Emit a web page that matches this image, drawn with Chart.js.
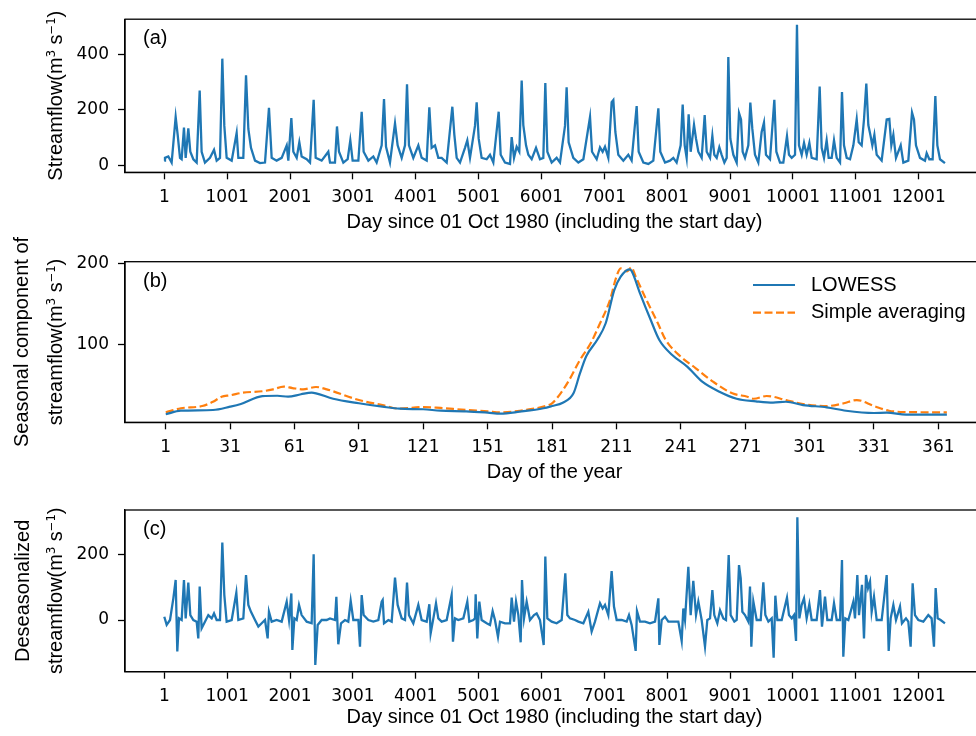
<!DOCTYPE html>
<html><head><meta charset="utf-8">
<script src="https://cdn.jsdelivr.net/npm/chart.js"></script>
<style>
html,body{margin:0;padding:0;background:#fff;overflow:hidden;width:976px;height:736px;position:relative;}
canvas{position:absolute;left:0;}
</style></head><body>
<canvas id="ca" width="1000" height="240" style="top:0px"></canvas>
<canvas id="cb" width="1000" height="268" style="top:222px"></canvas>
<canvas id="cc" width="1000" height="258" style="top:478px"></canvas>
<script>
// ---------------- data ----------------
const dailyDays = [1,12,65,118,145,182,214,251,277,314,341,383,415,463,516,564,595,648,728,792,834,887,924,956,993,1073,1152,1179,1258,1301,1338,1380,1444,1523,1603,1666,1709,1788,1868,1948,1974,2022,2054,2107,2149,2186,2266,2319,2377,2409,2504,2610,2637,2716,2748,2780,2849,2918,2960,2997,3088,3141,3172,3247,3326,3379,3459,3496,3528,3591,3671,3713,3777,3830,3862,3893,3962,
4042,4095,4175,4217,4254,4307,4360,4413,4493,4583,4615,4652,4705,4784,4821,4864,4943,4970,5002,5049,5129,5182,5235,5320,5352,5420,5500,5527,5564,5606,5648,5686,5712,5755,5792,5845,5914,5977,6030,6062,6094,6163,6242,6295,6375,6401,6433,6507,6587,6667,6773,6805,6879,6932,6974,7011,7064,7117,7144,7176,7223,7303,7382,7435,7515,7547,7621,7701,7780,7860,7891,7966,8045,8098,8151,8215,8247,8279,8310,8342,8374,8427,8459,
8496,8549,8597,8629,8682,8719,8750,8788,8830,8867,8910,8947,8973,9005,9053,9106,9143,9175,9201,9238,9291,9323,9355,9397,9450,9503,9540,9572,9636,9705,9737,9795,9848,9906,9938,9981,10034,10065,10097,10140,10177,10219,10262,10299,10378,10426,10458,10495,10537,10569,10617,10654,10697,10750,10781,10813,10856,10909,10962,11015,11047,11094,11131,11168,11200,11232,11264,11296,11333,11412,11492,11534,11566,11598,11640,11715,11757,11836,11895,11926,11958,12022,12101,12128,12170,12223,12266,12298,12340,12419];
const dailyFlow = [17,27,32,10,79,174,110,27,22,136,27,133,49,22,10,269,49,10,27,56,17,27,384,142,27,17,117,27,27,324,131,63,17,8,10,207,27,17,27,72,17,170,49,27,83,32,22,10,236,27,17,49,10,10,140,49,10,22,90,17,17,193,49,17,32,10,72,239,67,10,151,72,27,72,292,72,27,
72,27,17,209,63,72,27,27,10,211,110,27,10,63,90,27,142,227,96,27,22,38,10,193,38,10,5,102,27,67,49,305,145,72,38,22,63,22,27,296,49,10,27,10,142,281,83,27,10,22,174,49,22,65,49,67,27,227,235,120,38,17,38,17,213,49,10,5,17,205,49,10,17,27,10,72,219,72,27,184,49,146,96,
49,27,181,49,27,106,38,27,65,38,10,27,390,96,38,10,188,165,49,27,72,226,131,38,10,120,154,38,22,236,49,10,10,105,38,27,38,506,72,38,81,38,81,27,22,284,63,27,90,27,27,90,27,10,264,72,27,22,72,166,83,72,165,294,145,110,72,110,38,17,165,167,72,110,27,72,10,17,190,165,72,27,17,44,22,22,249,72,22,8];

const lowessDoy = [1,8,23,31,36,46,53,58,64,69,71,79,91,102,110,121,129,141,151,157,166,177,181,186,191,194,197,202,206,210,213,217,218,222,227,231,237,244,251,259,267,276,284,290,298,309,318,331,337,346,365];
const lowessFlow = [13.6,18,18.9,23,26.3,36,36.5,35.3,38.3,40.3,39.5,32.8,27.2,23,20.5,19.8,18,17.3,15.6,14.3,16.8,21,23.8,27.9,39.5,64,85.6,105.3,126,167,183.5,192.6,191,163,130,105.3,86.8,72.4,53.9,41.5,32.8,29.6,27.9,29.1,25,22.2,18,15.2,15.6,13.1,13.1];
const avgDoy = [1,8,18,23,27,31,37,46,51,56,60,65,71,76,91,102,110,121,129,141,151,157,166,178,181,185,189,194,199,203,208,211,213,216,218,220,225,230,234,241,248,256,265,272,275,281,290,298,309,317,323,331,338,346,365];
const avgFlow = [16,21,23.8,29,35.3,37,40.3,42,44.4,47.7,46,44.4,47.3,44.4,31.2,25,20.5,22.6,21.4,18.9,17.3,16,18,23.8,27.2,39.5,55.9,80.6,101.2,123.8,154.7,183.5,193.8,190,195,183.5,154.7,127.9,105.3,84.7,70.4,53.9,39.5,35.3,32.8,36.2,31.2,26.3,23.8,27.2,31.2,23.8,18,16.4,16];

const deseasDays = [1,39,92,145,182,208,235,277,314,341,383,415,463,516,542,564,595,648,701,755,792,834,887,924,956,993,1073,1147,1179,1258,1301,1338,1380,1444,1497,1550,1603,1645,1666,1709,1788,1868,1948,1985,2022,2038,2070,2107,2144,2186,2266,2345,2377,2403,2441,2504,2584,2637,2716,2738,2769,2812,2875,2928,2966,3008,3088,3114,3141,3172,3247,3326,3406,3459,3475,3496,3565,3618,3671,3713,3777,3830,3862,3893,3962,
4042,4095,4175,4217,4238,4281,4323,4360,4413,4493,4572,4593,4625,4678,4758,4821,4853,4917,4943,4954,4980,5012,5049,5129,5182,5224,5261,5309,5341,5420,5500,5527,5564,5596,5633,5670,5691,5723,5765,5818,5882,5924,5977,6036,6062,6094,6163,6242,6322,6380,6412,6454,6534,6587,6667,6746,6799,6852,6932,6974,7011,7064,7117,7154,7197,7276,7356,7393,7435,7499,7520,7568,7648,7727,7807,7860,7876,7913,7966,8019,8098,8178,8231,8257,8284,8337,8374,8416,8459,
8496,8549,8602,8639,8682,8719,8750,8798,8841,8894,8936,8979,9010,9069,9106,9143,9170,9196,9238,9291,9318,9339,9371,9424,9488,9530,9562,9610,9663,9694,9721,9753,9822,9906,9938,9981,10018,10050,10071,10103,10140,10177,10219,10262,10299,10378,10431,10463,10511,10548,10617,10654,10697,10750,10781,10802,10834,10882,10962,10988,11025,11052,11099,11131,11163,11195,11227,11253,11290,11333,11412,11492,11524,11555,11598,11640,11704,11735,11799,11836,11873,11905,11942,11995,12075,12154,12207,12244,12271,12303,12350,12419];
const deseasFlow = [10,-15,0,66,122,-96,5,0,122,5,114,15,0,-5,-56,102,-25,-5,15,5,20,0,0,236,76,-5,0,83,0,5,137,46,25,0,-20,-10,0,-56,25,-5,0,-5,56,0,81,-91,5,0,46,15,-5,-10,200,-137,-15,0,0,5,0,71,-74,-10,0,-5,58,0,0,-81,76,15,0,-5,0,56,61,-10,0,-5,129,46,5,0,114,15,-10,
46,0,-5,48,-41,5,51,5,-5,0,76,-66,5,0,5,56,-5,0,5,78,-56,56,0,-10,-15,27,0,-51,-5,-10,-10,68,-5,56,15,-68,122,5,56,0,15,20,0,-76,193,5,-5,-10,0,142,15,5,0,-5,-10,25,-35,-5,51,35,46,15,149,41,0,0,-5,15,-15,-94,27,-5,-5,-10,-5,66,-76,0,10,-5,-5,-5,-64,35,0,162,15,119,15,
56,0,-81,0,5,91,15,-10,30,5,0,198,15,-5,0,167,127,25,15,-5,102,-81,56,0,0,115,15,-5,5,-115,74,0,0,68,15,5,15,-64,313,5,46,66,5,48,0,0,91,-20,71,0,0,51,0,0,183,-112,5,0,56,5,137,15,107,-56,137,97,117,25,71,0,0,137,-94,5,46,0,41,-10,5,-5,-81,112,15,0,-5,15,5,-81,97,5,0,-10];

const dayTicks = [1,1001,2001,3001,4001,5001,6001,7001,8001,9001,10001,11001,12001];
const doyTicks = [1,31,61,91,121,151,181,211,241,271,301,331,361];
const flowTicks = [0,200,400];
const seasonTicks = [100,200];
const deseasTicks = [0,200];
const seriesNames = ['LOWESS','Simple averaging'];

// ---------------- styling ----------------
const BLUE = '#1f77b4', ORANGE = '#ff7f0e';
const SANS = "'Liberation Sans', Arial, sans-serif";
const TICKF = {family:"'DejaVu Sans'", size:17};
const F20 = "20px " + SANS;
const SUP = "11.5px 'DejaVu Sans'";
const XTITLE_DAY = 'Day since 01 Oct 1980 (including the start day)';

const pts = (xs, ys) => xs.map((x,i) => ({x:x, y:ys[i]}));
const unit = (p) => [{t:p+'(m', font:F20},{t:'3', font:SUP, raise:7.5},{t:' s', font:F20},{t:'\u22121', font:SUP, raise:7.5},{t:')', font:F20}];

function decorPlugin(cfg){
  return {
    id:'decor'+cfg.label,
    afterDatasetsDraw(chart){
      const ctx = chart.ctx, a = chart.chartArea;
      ctx.save();
      ctx.strokeStyle='#000'; ctx.lineWidth=1.3; ctx.setLineDash([]);
      ctx.strokeRect(a.left, a.top, a.right-a.left, a.bottom-a.top);
      ctx.fillStyle='#000';
      ctx.font = F20; ctx.textBaseline='middle'; ctx.textAlign='left';
      ctx.fillText(cfg.label, 143, a.top + 19.5);
      const cy = (a.top + a.bottom)/2;
      cfg.yLines.forEach(line => {
        let total = 0;
        line.segs.forEach(s => { ctx.font = s.font; s.w = ctx.measureText(s.t).width; total += s.w; });
        ctx.save();
        ctx.translate(line.x, cy); ctx.rotate(-Math.PI/2);
        ctx.textBaseline='alphabetic'; ctx.textAlign='left';
        let x = -total/2;
        line.segs.forEach(s => { ctx.font = s.font; ctx.fillText(s.t, x, -(s.raise||0)); x += s.w; });
        ctx.restore();
      });
      if (cfg.legend){
        chart.data.datasets.forEach((ds,i) => {
          const y = a.top + 23.3 + i*27.7;
          ctx.strokeStyle = ds.borderColor; ctx.lineWidth = ds.borderWidth;
          ctx.setLineDash(ds.borderDash || []);
          ctx.beginPath(); ctx.moveTo(753, y); ctx.lineTo(795, y); ctx.stroke();
          ctx.setLineDash([]);
          ctx.font = F20; ctx.textBaseline='middle'; ctx.fillStyle='#000';
          ctx.fillText(ds.label, 811, y);
        });
      }
      ctx.restore();
    }
  };
}

function axisCommon(ticksArr, pad){
  return {
    type:'linear',
    afterBuildTicks: s => { s.ticks = ticksArr.map(v => ({value:v})); },
    ticks:{autoSkip:false, maxRotation:0, minRotation:0, color:'#000', font:TICKF, padding:pad, callback: v => String(v)},
    grid:{display:true, drawOnChartArea:false, drawTicks:true, tickLength:7, color:'#000', tickWidth:1.3},
    border:{display:true, color:'#000', width:1.3}
  };
}

function makeChart(id, cfg){
  const x = Object.assign(axisCommon(cfg.xTicks, cfg.xTickPad), {
    min:cfg.xMin, max:cfg.xMax,
    afterFit: s => { s.height = cfg.xHeight; },
    title:{display:true, text:cfg.xTitle, color:'#000', font:{family:SANS, size:20}, padding:{top:0, bottom:cfg.xTitlePad}}
  });
  const y = Object.assign(axisCommon(cfg.yTicks, 9), {
    min:cfg.yMin, max:cfg.yMax,
    afterFit: s => { s.width = 125; }
  });
  return new Chart(document.getElementById(id), {
    type:'line',
    data:{datasets:cfg.datasets},
    options:{
      responsive:false, animation:false, devicePixelRatio:1,
      layout:{padding:{top:cfg.padTop, right:16, left:0, bottom:0}},
      plugins:{legend:{display:false}, tooltip:{enabled:false}},
      elements:{point:{radius:0}},
      scales:{x:x, y:y}
    },
    plugins:[decorPlugin(cfg)]
  });
}

makeChart('ca', {
  label:'(a)', padTop:11, xHeight:67.7, xTitlePad:6, xTickPad:8.5,
  xMin:-624, xMax:13040, yMin:-25, yMax:526,
  xTicks:dayTicks, yTicks:flowTicks, xTitle:XTITLE_DAY,
  yLines:[{x:62, segs:unit('Streamflow')}],
  datasets:[{label:'Streamflow', data:pts(dailyDays, dailyFlow), borderColor:BLUE, borderWidth:2.3, pointRadius:0, tension:0, fill:false}]
});

makeChart('cb', {
  label:'(b)', padTop:39.7, xHeight:67.7, xTitlePad:6, xTickPad:8.5,
  xMin:-18, xMax:382.3, yMin:3.7, yMax:202,
  xTicks:doyTicks, yTicks:seasonTicks, xTitle:'Day of the year', legend:true,
  yLines:[{x:28, segs:[{t:'Seasonal component of', font:F20}]},{x:62, segs:unit('streamflow')}],
  datasets:[
    {label:seriesNames[0], data:pts(lowessDoy, lowessFlow), borderColor:BLUE, borderWidth:2.2, pointRadius:0, cubicInterpolationMode:'monotone', fill:false},
    {label:seriesNames[1], data:pts(avgDoy, avgFlow), borderColor:ORANGE, borderWidth:2.2, borderDash:[8,3.5], pointRadius:0, cubicInterpolationMode:'monotone', fill:false}
  ]
});

makeChart('cc', {
  label:'(c)', padTop:32, xHeight:64.3, xTitlePad:7, xTickPad:7.2,
  xMin:-624, xMax:13040, yMin:-157.4, yMax:335,
  xTicks:dayTicks, yTicks:deseasTicks, xTitle:XTITLE_DAY,
  yLines:[{x:29, segs:[{t:'Deseasonalized', font:F20}]},{x:62, segs:unit('streamflow')}],
  datasets:[{label:'Deseasonalized', data:pts(deseasDays, deseasFlow), borderColor:BLUE, borderWidth:2.3, pointRadius:0, tension:0, fill:false}]
});
</script>
</body></html>
